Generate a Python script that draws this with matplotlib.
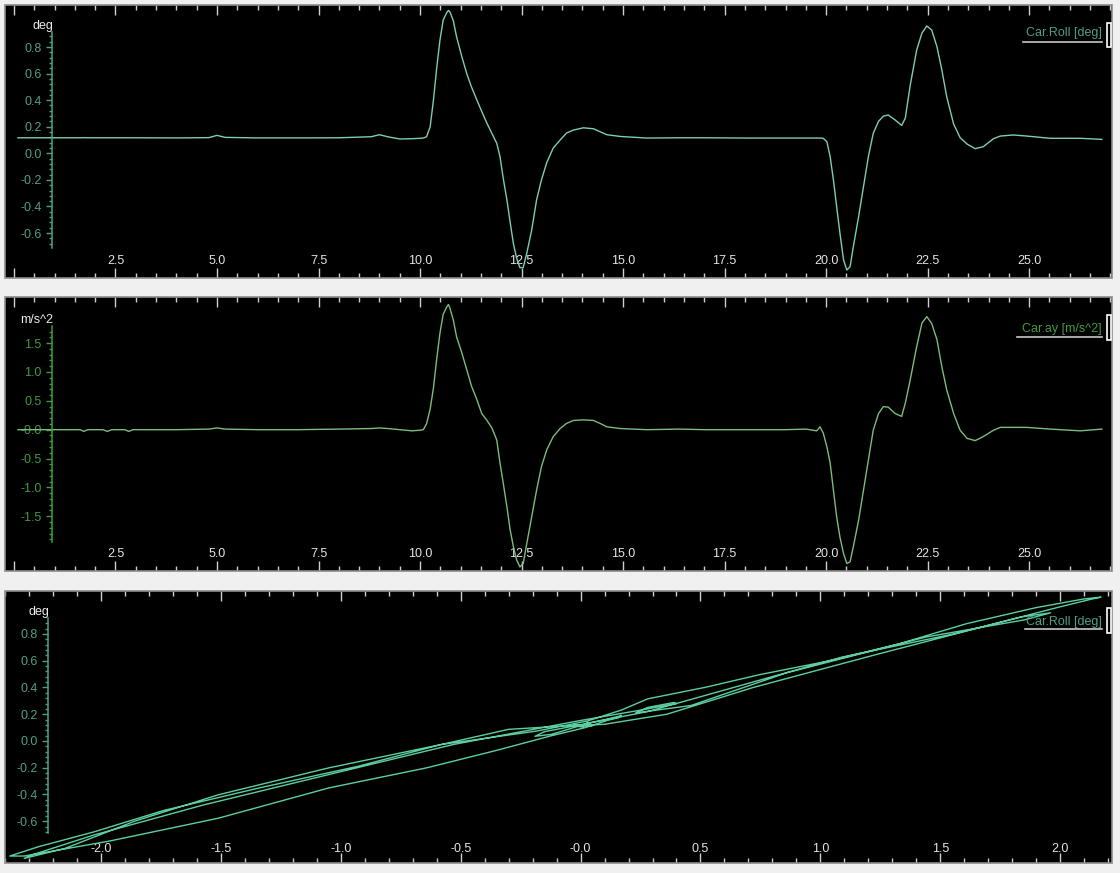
import numpy as np
import matplotlib
matplotlib.use('Agg')
import matplotlib.pyplot as plt
from matplotlib.ticker import FixedLocator, FixedFormatter
from matplotlib.patches import Rectangle
from matplotlib.lines import Line2D

# ---------------- data ----------------
time_s = [0.10, 1.00, 1.63, 1.72, 1.82, 2.19, 2.30, 2.41, 2.73, 2.83, 2.93, 4.00,
          4.80, 5.00, 5.20, 6.00, 7.00, 8.00, 8.80, 9.00, 9.20, 9.50, 9.80, 10.00,
          10.08, 10.16, 10.25, 10.33, 10.41, 10.49, 10.57, 10.66, 10.70, 10.74, 10.82, 10.90,
          11.03, 11.15, 11.27, 11.40, 11.52, 11.64, 11.77, 11.89, 11.97,
          12.05, 12.14, 12.22, 12.30, 12.38, 12.46, 12.54, 12.63, 12.75, 12.87, 12.99,
          13.12, 13.28, 13.45, 13.61, 13.78,
          14.02, 14.27, 14.43, 14.60, 14.93, 15.58, 16.40,
          17.00, 18.00, 19.00, 19.50,
          19.77, 19.85, 19.93, 20.02, 20.10, 20.18, 20.26, 20.34, 20.43, 20.51,
          20.59, 20.67, 20.80, 20.92, 21.04, 21.16, 21.29, 21.41, 21.53, 21.70,
          21.86, 21.95, 22.07, 22.23, 22.36, 22.48, 22.60, 22.73, 22.85, 22.97,
          23.14, 23.30, 23.47, 23.67, 23.87, 24.12, 24.29, 24.61, 24.94, 25.52,
          26.26, 26.79]

roll_deg = [0.117, 0.117, 0.117, 0.118, 0.117, 0.117, 0.117, 0.117, 0.117, 0.117, 0.117, 0.116,
            0.118, 0.135, 0.120, 0.116, 0.116, 0.117, 0.125, 0.140, 0.125, 0.108, 0.110, 0.113,
            0.115, 0.125, 0.200, 0.400, 0.640, 0.850, 1.003, 1.060, 1.075, 1.062, 0.997, 0.877,
            0.727, 0.600, 0.497, 0.401, 0.315, 0.231, 0.150, 0.075, -0.026,
            -0.190, -0.351, -0.520, -0.680, -0.790, -0.860, -0.860, -0.750, -0.577, -0.351, -0.200,
            -0.070, 0.040, 0.100, 0.153, 0.175,
            0.192, 0.185, 0.163, 0.140, 0.127, 0.115, 0.117,
            0.117, 0.115, 0.115, 0.115,
            0.115, 0.115, 0.113, 0.087, -0.026, -0.201, -0.402, -0.600, -0.803, -0.878,
            -0.853, -0.703, -0.477, -0.251, -0.026, 0.150, 0.240, 0.280, 0.288, 0.251,
            0.210, 0.265, 0.510, 0.777, 0.905, 0.958, 0.928, 0.802, 0.627, 0.426,
            0.220, 0.118, 0.070, 0.035, 0.050, 0.110, 0.130, 0.138, 0.130, 0.113,
            0.113, 0.105]

ay_ms2 = [0.00, 0.00, 0.00, -0.03, 0.00, 0.00, -0.03, 0.00, 0.00, -0.03, 0.00, 0.00,
          0.01, 0.03, 0.01, 0.00, 0.00, 0.01, 0.02, 0.03, 0.02, 0.00, -0.02, -0.01,
          0.00, 0.10, 0.36, 0.72, 1.22, 1.67, 2.00, 2.13, 2.17, 2.10, 1.90, 1.61,
          1.33, 1.04, 0.75, 0.52, 0.28, 0.17, 0.03, -0.18, -0.58,
          -0.93, -1.34, -1.74, -2.03, -2.26, -2.38, -2.32, -1.97, -1.51, -1.05, -0.64,
          -0.35, -0.12, 0.02, 0.11, 0.16,
          0.17, 0.16, 0.11, 0.05, 0.02, 0.00, 0.01,
          0.00, 0.00, 0.00, 0.01,
          -0.02, 0.05, -0.06, -0.30, -0.58, -1.05, -1.51, -1.86, -2.15, -2.32,
          -2.29, -2.03, -1.57, -1.05, -0.53, -0.01, 0.28, 0.40, 0.39, 0.28,
          0.23, 0.46, 0.86, 1.44, 1.85, 1.96, 1.84, 1.56, 1.09, 0.69,
          0.28, -0.01, -0.15, -0.19, -0.12, -0.01, 0.04, 0.04, 0.04, 0.01,
          -0.02, 0.01]

time_tick_labels = ['', '2.5', '5.0', '7.5', '10.0', '12.5', '15.0', '17.5', '20.0', '22.5', '25.0']
roll_tick_labels = ['-0.6', '-0.4', '-0.2', '0.0', '0.2', '0.4', '0.6', '0.8']
ay_tick_labels = ['-1.5', '-1.0', '-0.5', '-0.0', '0.5', '1.0', '1.5']
ay_x_tick_labels = ['-2.0', '-1.5', '-1.0', '-0.5', '-0.0', '0.5', '1.0', '1.5', '2.0']

roll_legend = 'Car.Roll [deg]'
ay_legend = 'Car.ay [m/s^2]'
roll_unit = 'deg'
ay_unit = 'm/s^2'

# ---------------- styling ----------------
plt.rcParams['font.family'] = ['Liberation Sans', 'DejaVu Sans']
FS = 9

W, H = 1120, 873
fig = plt.figure(figsize=(W / 100, H / 100), dpi=100, facecolor='#f0f0f0')

TEAL = '#4f9f83'
GREEN = '#3f9a3f'
ROLL_LINE = '#7ccfae'
AY_LINE = '#7cbc7c'
XY_LINE = '#5ccfa0'
TICK_C = '#cfcfcf'
XLAB_C = '#e4e4e4'


def px_axes(left, top, right, bottom):
    return fig.add_axes([left / W, 1 - bottom / H, (right - left) / W, (bottom - top) / H])


def style_panel(ax, xlim, ylim, xmajor, xlabels, xminor, ymajor, ylabels, yminor,
                ybounds, yaxis_x, ycolor, unit, legend_text, legend_color,
                legend_y, underline_y, underline_x0, box_y, xlabel_pad):
    ax.set_facecolor('black')
    ax.set_xlim(*xlim)
    ax.set_ylim(*ylim)
    for side in ['top', 'right', 'bottom']:
        ax.spines[side].set_visible(False)
    ax.add_patch(Rectangle((0, 0), 1, 1, transform=ax.transAxes, fill=False,
                           ec='#8c8c8c', lw=1.2, clip_on=False, zorder=6))
    # internal y axis
    ax.spines['left'].set_position(('data', yaxis_x))
    ax.spines['left'].set_bounds(*ybounds)
    ax.spines['left'].set_color(ycolor)
    ax.spines['left'].set_linewidth(1.1)
    ax.yaxis.set_major_locator(FixedLocator(ymajor))
    ax.yaxis.set_major_formatter(FixedFormatter(ylabels))
    ax.yaxis.set_minor_locator(FixedLocator(yminor))
    ax.tick_params(axis='y', which='major', direction='out', length=4, width=1,
                   color=ycolor, labelcolor=ycolor, labelsize=FS, pad=3.5)
    ax.tick_params(axis='y', which='minor', direction='out', length=2.2, width=1,
                   color=ycolor)
    # x ticks along top and bottom, labels inside
    ax.xaxis.set_major_locator(FixedLocator(xmajor))
    ax.xaxis.set_major_formatter(FixedFormatter(xlabels))
    ax.xaxis.set_minor_locator(FixedLocator(xminor))
    ax.tick_params(axis='x', which='both', direction='in', top=True, bottom=True,
                   color=TICK_C, width=1)
    ax.tick_params(axis='x', which='major', length=7, labelcolor=XLAB_C,
                   labelsize=FS, pad=-xlabel_pad)
    ax.tick_params(axis='x', which='minor', length=3.5)
    # unit label
    ax.annotate(unit, xy=(yaxis_x, ybounds[1]), xycoords='data', xytext=(1, 0),
                textcoords='offset points', ha='right', va='bottom',
                color='#ececec', fontsize=FS)
    # legend
    ax.text(0.991, legend_y, legend_text, transform=ax.transAxes, ha='right',
            va='center', color=legend_color, fontsize=FS, zorder=7)
    ax.add_line(Line2D([underline_x0, 0.991], [underline_y, underline_y],
                       transform=ax.transAxes, color='#c8c8c8', lw=1.2, zorder=7))
    ax.add_patch(Rectangle((0.9955, box_y[0]), 0.0036, box_y[1] - box_y[0],
                           transform=ax.transAxes, fill=False, ec='white', lw=1.2,
                           zorder=7, clip_on=False))


t_major = np.arange(0, 25.01, 2.5)
t_minor = np.arange(0, 27.01, 0.5)

roll_bounds = (-0.713, 0.913)
roll_major = np.arange(-0.6, 0.81, 0.2)
roll_minor = [v for v in np.arange(-0.72, 0.93, 0.04) if roll_bounds[0] <= v <= roll_bounds[1]]

ay_bounds = (-1.94, 1.79)
ay_major = np.arange(-1.5, 1.51, 0.5)
ay_minor = [v for v in np.arange(-2.0, 1.81, 0.1) if ay_bounds[0] <= v <= ay_bounds[1]]

# Panel 1: roll vs time
ax1 = px_axes(5, 5, 1112, 278)
ax1.plot(time_s, roll_deg, color=ROLL_LINE, lw=1.0)
style_panel(ax1, (-0.22, 27.04), (-0.938, 1.116), t_major, time_tick_labels, t_minor,
            roll_major, roll_tick_labels, roll_minor, roll_bounds, 0.936, TEAL,
            roll_unit, roll_legend, TEAL, 0.897, 0.8645, 0.9196, (0.846, 0.934), 16.5)

# Panel 2: ay vs time
ax2 = px_axes(5, 297, 1112, 571)
ax2.plot(time_s, ay_ms2, color=AY_LINE, lw=1.0)
style_panel(ax2, (-0.22, 27.04), (-2.45, 2.30), t_major, time_tick_labels, t_minor,
            ay_major, ay_tick_labels, ay_minor, ay_bounds, 0.936, GREEN,
            ay_unit, ay_legend, GREEN, 0.883, 0.854, 0.914, (0.843, 0.934), 16.5)

# Panel 3: roll vs ay
p3_bounds = (-0.69, 0.92)
p3_minor = [v for v in np.arange(-0.72, 0.93, 0.04) if p3_bounds[0] <= v <= p3_bounds[1]]
ax3 = px_axes(5, 591, 1112, 863)
ax3.plot(ay_ms2, roll_deg, color=XY_LINE, lw=1.0)
style_panel(ax3, (-2.40, 2.216), (-0.912, 1.121), np.arange(-2.0, 2.01, 0.5),
            ay_x_tick_labels, np.arange(-2.4, 2.21, 0.1),
            roll_major, roll_tick_labels, p3_minor, p3_bounds, -2.219, TEAL,
            roll_unit, roll_legend, TEAL, 0.886, 0.860, 0.921, (0.846, 0.9375), 14.5)

fig.savefig('out.png', dpi=100, facecolor=fig.get_facecolor())
